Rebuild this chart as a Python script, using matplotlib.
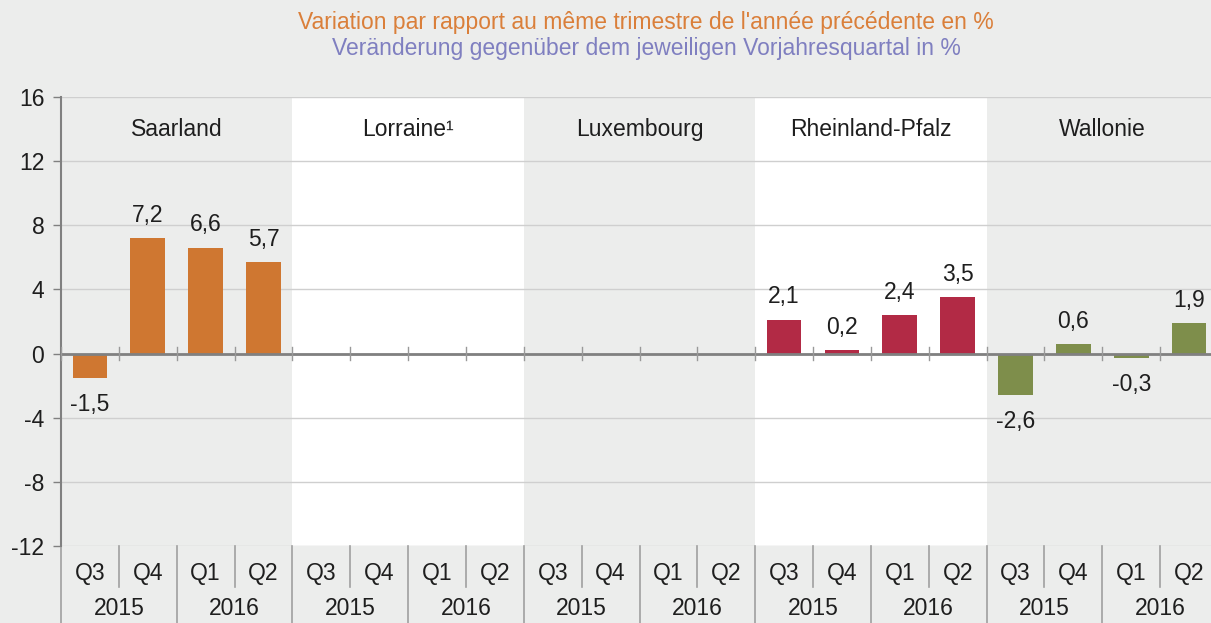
import matplotlib
matplotlib.use("Agg")
import matplotlib.pyplot as plt
import numpy as np
from matplotlib.lines import Line2D

plt.rcParams['font.family'] = ['Liberation Sans', 'DejaVu Sans']

regions = ["Saarland", "Lorraine¹", "Luxembourg", "Rheinland-Pfalz", "Wallonie"]
quarters = ["Q3", "Q4", "Q1", "Q2"]
years = ["2015", "2016"]
saarland = [-1.5, 7.2, 6.6, 5.7]
lorraine = [np.nan, np.nan, np.nan, np.nan]
luxembourg = [np.nan, np.nan, np.nan, np.nan]
rheinland_pfalz = [2.1, 0.2, 2.4, 3.5]
wallonie = [-2.6, 0.6, -0.3, 1.9]
series = [saarland, lorraine, luxembourg, rheinland_pfalz, wallonie]
region_colors = ["#CF7731", "#888888", "#888888", "#B22A45", "#7E8E4B"]

W, H = 1211, 623
bg = "#ECEDEC"
txt = "#1e1e1e"
fs = 16.5
fig = plt.figure(figsize=(W / 100, H / 100), dpi=100, facecolor=bg)
ax_left, ax_right, ax_top, ax_bot = 61, 1218, 97, 546
ax = fig.add_axes([ax_left / W, (H - ax_bot) / H, (ax_right - ax_left) / W, (ax_bot - ax_top) / H])
ax.set_facecolor(bg)

n_reg = len(regions)
nq = len(quarters)
ax.set_xlim(-0.5, n_reg * nq - 0.5)
ax.set_ylim(-12, 16)

# bands
for r in range(n_reg):
    if r % 2 == 1:
        ax.axvspan(r * nq - 0.5, r * nq + nq - 0.5, color="white", zorder=0, lw=0)

# grid
for yv in range(-12, 17, 4):
    ax.axhline(yv, color="#CFCFCF", lw=1.0, zorder=1)

# bars
for r, vals in enumerate(series):
    xs = np.arange(nq) + r * nq
    v = np.array(vals, dtype=float)
    ax.bar(xs, v, width=0.6, color=region_colors[r], zorder=3)
    for x, val in zip(xs, v):
        if np.isnan(val):
            continue
        off = 16.5 if val >= 0 else -19
        ax.annotate(f"{val:.1f}".replace(".", ","), (x, val), xytext=(0, off),
                    textcoords="offset points", ha="center", va="center",
                    fontsize=fs, color=txt, zorder=4)
    ax.text(r * nq + (nq - 1) / 2, 14.0, regions[r], ha="center", va="center",
            fontsize=fs, color=txt)

# zero line with small ticks
ax.axhline(0, color="#808080", lw=2, zorder=5)
for b in range(n_reg * nq + 1):
    ax.plot([b - 0.5, b - 0.5], [-0.42, 0.42], color="#999999", lw=1, zorder=5)

# spines / ticks
for s in ["top", "right", "bottom"]:
    ax.spines[s].set_visible(False)
ax.spines["left"].set_color("#808080")
ax.spines["left"].set_linewidth(1.5)
ax.set_yticks(range(-12, 17, 4))
ax.set_yticklabels([str(t) for t in range(-12, 17, 4)], fontsize=fs, color=txt)
ax.tick_params(axis="y", length=6, color="#808080", width=1, pad=6)
ax.set_xticks([])

# category axis labels
trans = ax.get_xaxis_transform()
for i in range(n_reg * nq):
    ax.text(i, -0.062, quarters[i % nq], transform=trans, ha="center", va="center",
            fontsize=fs, color=txt, clip_on=False)
for r in range(n_reg):
    for yi, yr in enumerate(years):
        ax.text(r * nq + yi * 2 + 0.5, -0.139, yr, transform=trans, ha="center", va="center",
                fontsize=fs, color=txt, clip_on=False)
for b in range(n_reg * nq + 1):
    x = b - 0.5
    y0 = -0.20 if b % 2 == 0 else -0.092
    ax.add_line(Line2D([x, x], [0, y0], transform=trans, color="#A0A0A0", lw=1.2, clip_on=False))

fig.text(646 / W, 1 - 22 / H, "Variation par rapport au même trimestre de l'année précédente en %",
         ha="center", va="center", fontsize=fs, color="#DA7F3A")
fig.text(646 / W, 1 - 48 / H, "Veränderung gegenüber dem jeweiligen Vorjahresquartal in %",
         ha="center", va="center", fontsize=fs, color="#7F7FC0")

fig.savefig("out.png", dpi=100, facecolor=bg)
